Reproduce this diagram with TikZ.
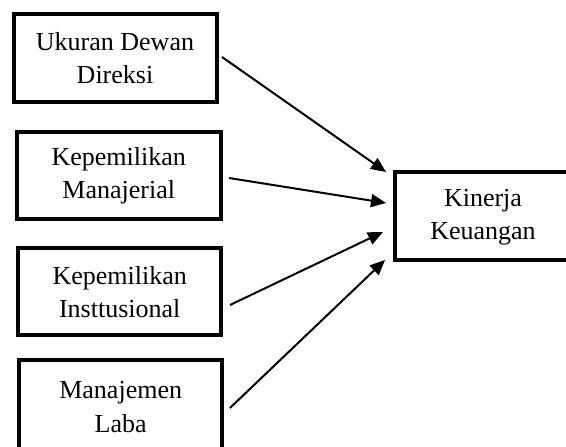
\documentclass[tikz,border=0pt]{standalone}
\usepackage{fontspec}
\setmainfont{Liberation Serif}
\usetikzlibrary{arrows.meta}
\newcommand{\twolines}[2]{\begin{tabular}{@{}c@{}}#1\\#2\end{tabular}}
\begin{document}
\begin{tikzpicture}[x=1pt,y=1pt,
  varbox/.style={draw, line width=4pt, align=center, inner sep=0pt,
    font=\fontsize{26}{33.5}\selectfont},
  arr/.style={line width=2pt, -{Triangle[length=15pt,width=13pt]}}]
\useasboundingbox (0,0) rectangle (566,447);
\clip (0,0) rectangle (566,447);
\node[varbox, minimum width=203pt, minimum height=87.5pt] (b1) at (115,389) {Ukuran Dewan\\Direksi};
\node[varbox, minimum width=203.5pt, minimum height=87pt] (b2) at (118.75,271) {Kepemilikan\\Manajerial};
\node[varbox, minimum width=203pt, minimum height=87pt] (b3) at (119.7,155) {Kepemilikan\\Insttusional};
\node[varbox, minimum width=203.5pt, minimum height=97pt] (b4) at (120.7,38) {\raisebox{7.5pt}{\twolines{Manajemen}{Laba}}};
\node[varbox, minimum width=200pt, minimum height=88pt] (k) at (495,230.5) {\twolines{Kinerja}{Keuangan}\hspace*{24pt}};
\draw[arr] ([shift={(3.5,1)}]b1.east) -- ([shift={(-7,44.5)}]k.west);
\draw[arr] ([shift={(6.5,-2)}]b2.east) -- ([shift={(-7,13.5)}]k.west);
\draw[arr] ([shift={(6.8,-13)}]b3.east) -- ([shift={(-10,-15.5)}]k.west);
\draw[arr] ([shift={(5.5,1)}]b4.east) -- ([shift={(-8,-43.5)}]k.west);
\end{tikzpicture}
\end{document}
